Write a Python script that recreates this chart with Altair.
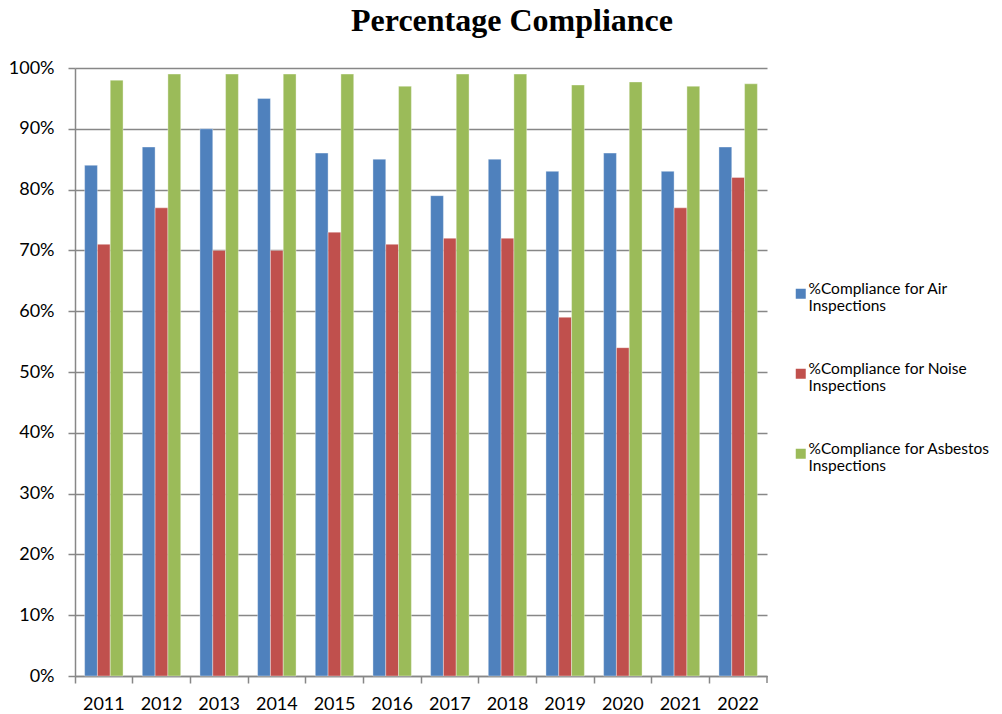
import altair as alt
import pandas as pd

years = ["2011", "2012", "2013", "2014", "2015", "2016", "2017", "2018", "2019", "2020", "2021", "2022"]
series = [
    "%Compliance for Air Inspections",
    "%Compliance for Noise Inspections",
    "%Compliance for Asbestos Inspections",
]
air = [84, 87, 90, 95, 86, 85, 79, 85, 83, 86, 83, 87]
noise = [71, 77, 70, 70, 73, 71, 72, 72, 59, 54, 77, 82]
asbestos = [98, 99, 99, 99, 99, 97, 99, 99, 97.2, 97.7, 97, 97.4]
colors = ["#4F81BD", "#C0504D", "#9BBB59"]
y_ticks = [0, 0.1, 0.2, 0.3, 0.4, 0.5, 0.6, 0.7, 0.8, 0.9, 1.0]

rows = []
for s, vals in zip(series, [air, noise, asbestos]):
    for yr, v in zip(years, vals):
        rows.append({"Year": yr, "Series": s, "Value": v / 100})
df = pd.DataFrame(rows)

W, H = 692, 608
FONT = "Lato"

bars = alt.Chart(df).mark_bar(stroke="#ffffff", strokeWidth=0.6, strokeOpacity=0.6).encode(
    x=alt.X("Year:N", sort=years, title=None,
            scale=alt.Scale(paddingInner=0, paddingOuter=0),
            axis=alt.Axis(labelAngle=0, bandPosition=0, ticks=True, tickSize=7,
                          tickColor="#878787", tickWidth=1.5, domainColor="#878787",
                          domainWidth=1.5, labelFont=FONT, labelFontSize=18,
                          labelColor="#000000", labelPadding=12, grid=False)),
    xOffset=alt.XOffset("Series:N", sort=series,
                        scale=alt.Scale(paddingInner=0, paddingOuter=0.75)),
    y=alt.Y("Value:Q", title=None,
            scale=alt.Scale(domain=[0, 1], nice=False),
            axis=alt.Axis(format=".0%", values=y_ticks, tickSize=7, tickColor="#878787",
                          tickWidth=1.5, domainColor="#878787", domainWidth=1.5,
                          gridColor="#878787", gridWidth=1.5, labelFont=FONT,
                          labelFontSize=18, labelColor="#000000", labelPadding=14)),
    color=alt.Color("Series:N", sort=series,
                    scale=alt.Scale(domain=series, range=colors),
                    legend=alt.Legend(title=None, orient="none", legendX=718, legendY=218,
                                      symbolType="square", symbolSize=100,
                                      symbolStrokeWidth=0, labelFont=FONT,
                                      labelFontSize=15.5, labelColor="#000000",
                                      labelOffset=0, labelBaseline="alphabetic",
                                      rowPadding=46, labelLimit=300,
                                      labelExpr="[replace(datum.label, ' Inspections', ''), 'Inspections']")),
)

end_tick = alt.Chart(pd.DataFrame({"a": [0]})).mark_rule(color="#878787", strokeWidth=1.5).encode(
    x=alt.value(W), y=alt.value(H), y2=alt.value(H + 7)
)

chart = alt.layer(bars, end_tick).properties(
    width=W, height=H,
    title=alt.TitleParams("Percentage Compliance", font="Liberation Serif", fontSize=32,
                          fontWeight="bold", color="#000000", anchor="middle", dx=91,
                          offset=21),
    autosize=alt.AutoSizeParams(type="none"),
    padding={"left": 67, "top": 60, "right": 227, "bottom": 38},
).configure_view(stroke=None).configure_axis(gridDash=[])

chart.save("out.html", embed_options={"renderer": "svg", "actions": False})
